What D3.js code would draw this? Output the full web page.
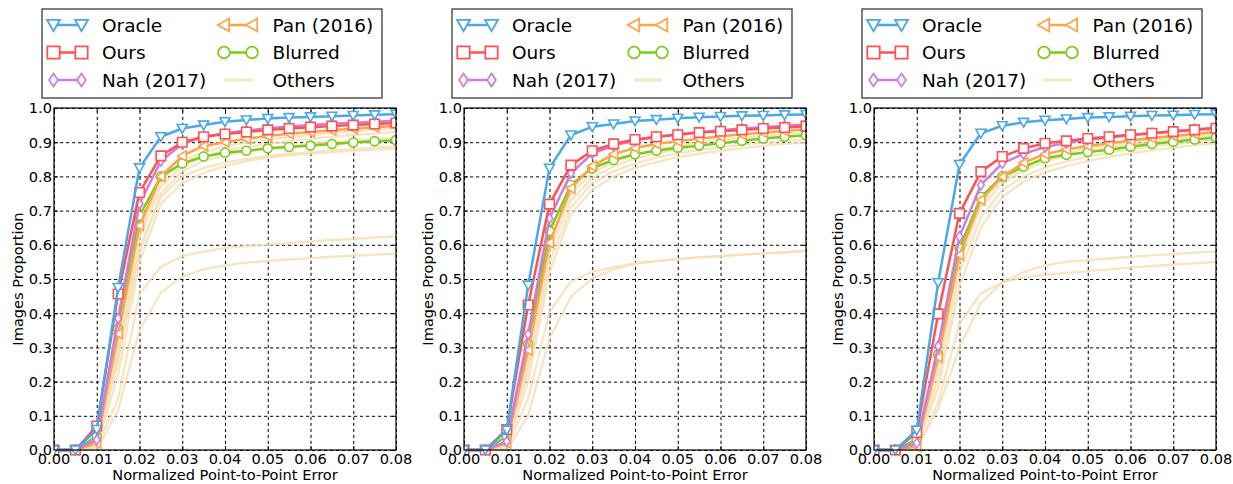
<!DOCTYPE html>
<html>
<head>
<meta charset="utf-8">
<script src="https://cdn.jsdelivr.net/npm/d3@7"></script>
<style>
  html, body { margin: 0; padding: 0; background: #fff; }
  svg { display: block; font-family: "DejaVu Sans", sans-serif; }
</style>
</head>
<body>
<svg id="chart" width="1233" height="484"></svg>
<script>
// ---------- data ----------
const errors = [0,0.005,0.01,0.015,0.02,0.025,0.03,0.035,0.04,0.045,0.05,0.055,0.06,0.065,0.07,0.075,0.08];
const xTicks = [0,0.01,0.02,0.03,0.04,0.05,0.06,0.07,0.08];
const yTicks = [0,0.1,0.2,0.3,0.4,0.5,0.6,0.7,0.8,0.9,1.0];
const seriesNames = ["Oracle","Ours","Nah (2017)","Pan (2016)","Blurred","Others"];

// panel 1
const oracle1  = [0,0,0.06,0.475,0.825,0.916,0.94,0.95,0.96,0.965,0.969,0.972,0.974,0.976,0.978,0.98,0.982];
const ours1    = [0,0,0.07,0.456,0.753,0.86,0.90,0.916,0.924,0.93,0.936,0.94,0.944,0.947,0.95,0.953,0.956];
const nah1     = [0,0,0.03,0.385,0.72,0.845,0.895,0.915,0.926,0.934,0.941,0.946,0.95,0.954,0.957,0.96,0.963];
const pan1     = [0,0,0.02,0.34,0.656,0.80,0.86,0.889,0.90,0.91,0.918,0.925,0.93,0.935,0.94,0.944,0.948];
const blurred1 = [0,0,0.04,0.355,0.685,0.80,0.838,0.858,0.869,0.875,0.882,0.886,0.89,0.895,0.899,0.903,0.906];
const others1 = [
  [0,0,0.01,0.15,0.456,0.536,0.567,0.58,0.59,0.596,0.60,0.605,0.61,0.614,0.617,0.621,0.625],
  [0,0,0.0,0.117,0.35,0.46,0.507,0.528,0.54,0.548,0.553,0.557,0.561,0.565,0.568,0.571,0.574],
  [0,0,0.01,0.22,0.55,0.72,0.78,0.81,0.83,0.845,0.855,0.862,0.867,0.871,0.875,0.878,0.881],
  [0,0,0.015,0.26,0.59,0.74,0.80,0.825,0.84,0.851,0.86,0.866,0.871,0.876,0.88,0.884,0.888],
  [0,0,0.02,0.29,0.62,0.77,0.83,0.857,0.875,0.886,0.895,0.903,0.91,0.916,0.921,0.925,0.93],
  [0,0,0.02,0.31,0.64,0.785,0.845,0.872,0.888,0.899,0.908,0.915,0.921,0.927,0.932,0.937,0.941],
  [0,0,0.015,0.27,0.58,0.75,0.815,0.845,0.862,0.873,0.882,0.889,0.895,0.9,0.905,0.909,0.913]
];

// panel 2
const oracle2  = [0,0,0.058,0.482,0.824,0.921,0.945,0.953,0.962,0.966,0.97,0.973,0.975,0.977,0.978,0.98,0.981];
const ours2    = [0,0,0.06,0.424,0.719,0.833,0.875,0.895,0.908,0.916,0.922,0.928,0.932,0.936,0.94,0.943,0.947];
const nah2     = [0,0,0.025,0.338,0.677,0.809,0.867,0.89,0.905,0.915,0.923,0.929,0.935,0.94,0.944,0.948,0.952];
const pan2     = [0,0,0.02,0.292,0.606,0.765,0.83,0.865,0.883,0.895,0.903,0.91,0.917,0.923,0.928,0.933,0.938];
const blurred2 = [0,0,0.04,0.31,0.64,0.775,0.824,0.848,0.865,0.875,0.884,0.89,0.897,0.904,0.911,0.916,0.92];
const others2 = [
  [0,0,0.005,0.15,0.404,0.492,0.521,0.535,0.546,0.552,0.558,0.563,0.567,0.571,0.575,0.578,0.582],
  [0,0,0.0,0.10,0.327,0.448,0.502,0.528,0.545,0.552,0.558,0.563,0.567,0.571,0.575,0.578,0.582],
  [0,0,0.01,0.2,0.52,0.69,0.76,0.80,0.825,0.842,0.856,0.866,0.875,0.882,0.889,0.895,0.9],
  [0,0,0.015,0.23,0.55,0.71,0.78,0.815,0.838,0.855,0.867,0.877,0.885,0.892,0.898,0.904,0.909],
  [0,0,0.015,0.25,0.58,0.73,0.795,0.83,0.852,0.867,0.879,0.889,0.897,0.904,0.91,0.915,0.92],
  [0,0,0.02,0.27,0.6,0.75,0.81,0.843,0.864,0.879,0.89,0.899,0.907,0.913,0.919,0.924,0.929]
];

// panel 3
const oracle3  = [0,0,0.058,0.489,0.835,0.926,0.948,0.958,0.964,0.968,0.972,0.974,0.976,0.978,0.979,0.981,0.982];
const ours3    = [0,0,0.051,0.398,0.692,0.814,0.858,0.882,0.897,0.904,0.911,0.916,0.922,0.926,0.931,0.936,0.941];
const nah3     = [0,0,0.02,0.304,0.624,0.775,0.838,0.866,0.886,0.898,0.907,0.914,0.92,0.926,0.932,0.937,0.943];
const pan3     = [0,0,0.01,0.271,0.57,0.731,0.799,0.84,0.865,0.879,0.889,0.897,0.905,0.912,0.918,0.924,0.93];
const blurred3 = [0,0,0.03,0.28,0.59,0.74,0.80,0.828,0.853,0.863,0.871,0.878,0.887,0.895,0.901,0.908,0.914];
const others3 = [
  [0,0,0.005,0.12,0.30,0.43,0.49,0.52,0.54,0.55,0.555,0.56,0.565,0.569,0.573,0.577,0.58],
  [0,0,0.0,0.14,0.37,0.458,0.49,0.505,0.512,0.518,0.523,0.528,0.533,0.538,0.542,0.546,0.55],
  [0,0,0.01,0.18,0.48,0.65,0.74,0.785,0.812,0.83,0.845,0.857,0.867,0.876,0.884,0.891,0.897],
  [0,0,0.01,0.21,0.52,0.68,0.76,0.8,0.826,0.844,0.858,0.87,0.879,0.887,0.894,0.9,0.906],
  [0,0,0.015,0.24,0.55,0.71,0.78,0.818,0.843,0.86,0.873,0.884,0.893,0.9,0.906,0.912,0.917],
  [0,0,0.015,0.26,0.57,0.725,0.79,0.828,0.853,0.869,0.882,0.892,0.9,0.907,0.913,0.918,0.923]
];

const panels = [
  {oracle: oracle1, ours: ours1, nah: nah1, pan: pan1, blurred: blurred1, others: others1},
  {oracle: oracle2, ours: ours2, nah: nah2, pan: pan2, blurred: blurred2, others: others2},
  {oracle: oracle3, ours: ours3, nah: nah3, pan: pan3, blurred: blurred3, others: others3}
];

// ---------- styles ----------
const COL = {
  oracle: "#4aa8e8", ours: "#ff5252", nah: "#cf7be6", pan: "#ffa24a",
  blurred: "#7acc1a", others: "#f5deb3"
};

function markerPath(type, s) {
  const r = s / 2;
  switch (type) {
    case "tri_down": return `M${-r},${-r*0.8}L${r},${-r*0.8}L0,${r*0.95}Z`;
    case "tri_left": return `M${-r*0.95},0L${r*0.8},${-r}L${r*0.8},${r}Z`;
    case "square": { const h = r * 0.95; return `M${-h},${-h}L${h},${-h}L${h},${h}L${-h},${h}Z`; }
    case "thin_diamond": return `M0,${-r}L${r*0.68},0L0,${r}L${-r*0.68},0Z`;
    case "circle": { const c = r * 0.9; return `M${c},0A${c},${c} 0 1,1 ${-c},0A${c},${c} 0 1,1 ${c},0Z`; }
  }
}

const svg = d3.select("#chart");
const PW = 342, PH = 342, TOP = 108;
const FONT = 14.6;

const drawOrder = [
  {key: "blurred", marker: "circle"},
  {key: "pan", marker: "tri_left"},
  {key: "nah", marker: "thin_diamond"},
  {key: "ours", marker: "square"},
  {key: "oracle", marker: "tri_down"}
];

panels.forEach((p, i) => {
  const left = 54 + 410 * i;
  const x = d3.scaleLinear().domain([0, 0.08]).range([left, left + PW]);
  const y = d3.scaleLinear().domain([0, 1]).range([TOP + PH, TOP]);
  const g = svg.append("g");

  // grid
  const gx = g.append("g").attr("transform", `translate(0,${TOP + PH})`)
    .call(d3.axisBottom(x).tickValues(xTicks).tickSize(-PH).tickFormat(""));
  gx.select(".domain").remove();
  gx.selectAll("line").attr("stroke", "#000").attr("stroke-width", 1).attr("stroke-dasharray", "3.2,2.8");
  const gy = g.append("g").attr("transform", `translate(${left},0)`)
    .call(d3.axisLeft(y).tickValues(yTicks).tickSize(-PW).tickFormat(""));
  gy.select(".domain").remove();
  gy.selectAll("line").attr("stroke", "#000").attr("stroke-width", 1).attr("stroke-dasharray", "3.2,2.8");

  // inward ticks on all sides
  const tk = [
    [d3.axisBottom(x).tickValues(xTicks).tickSize(-4).tickFormat(""), `translate(0,${TOP + PH})`],
    [d3.axisTop(x).tickValues(xTicks).tickSize(-4).tickFormat(""), `translate(0,${TOP})`],
    [d3.axisLeft(y).tickValues(yTicks).tickSize(-4).tickFormat(""), `translate(${left},0)`],
    [d3.axisRight(y).tickValues(yTicks).tickSize(-4).tickFormat(""), `translate(${left + PW},0)`]
  ];
  tk.forEach(([ax, tr]) => {
    const a = g.append("g").attr("transform", tr).call(ax);
    a.select(".domain").remove();
    a.selectAll("line").attr("stroke", "#000").attr("stroke-width", 1);
  });

  // clip
  const clipId = "clip" + i;
  svg.append("clipPath").attr("id", clipId)
    .append("rect").attr("x", left).attr("y", TOP - 8).attr("width", PW).attr("height", PH + 16);

  const line = d3.line().x((d, j) => x(errors[j])).y(d => y(d));
  const plot = g.append("g").attr("clip-path", `url(#${clipId})`);

  // others
  p.others.forEach(arr => {
    plot.append("path").attr("d", line(arr)).attr("fill", "none")
      .attr("stroke", COL.others).attr("stroke-opacity", 0.8).attr("stroke-width", 2.3)
      .attr("stroke-linejoin", "round");
  });

  // main series
  drawOrder.forEach(s => {
    const arr = p[s.key];
    plot.append("path").attr("d", line(arr)).attr("fill", "none")
      .attr("stroke", COL[s.key]).attr("stroke-width", 2.5).attr("stroke-linejoin", "round");
    plot.selectAll(null).data(arr).enter().append("path")
      .attr("transform", (d, j) => `translate(${x(errors[j])},${y(d)})`)
      .attr("d", markerPath(s.marker, 10))
      .attr("fill", "#fff").attr("stroke", COL[s.key]).attr("stroke-width", 1.6);
  });

  // frame
  g.append("rect").attr("x", left).attr("y", TOP).attr("width", PW).attr("height", PH)
    .attr("fill", "none").attr("stroke", "#000").attr("stroke-width", 1.2);

  // tick labels
  g.selectAll(null).data(xTicks).enter().append("text")
    .attr("x", d => x(d)).attr("y", TOP + PH + 14)
    .attr("text-anchor", "middle").attr("font-size", FONT).attr("fill", "#000")
    .text(d => d3.format(".2f")(d));
  g.selectAll(null).data(yTicks).enter().append("text")
    .attr("x", left - 2).attr("y", d => y(d) + 5.3)
    .attr("text-anchor", "end").attr("font-size", FONT).attr("fill", "#000")
    .text(d => d3.format(".1f")(d));

  // axis titles
  g.append("text").attr("x", left + PW / 2).attr("y", 480)
    .attr("text-anchor", "middle").attr("font-size", FONT).attr("fill", "#000")
    .text("Normalized Point-to-Point Error");
  g.append("text").attr("transform", `translate(${left - 31},${TOP + PH / 2}) rotate(-90)`)
    .attr("text-anchor", "middle").attr("font-size", FONT).attr("fill", "#000")
    .text("Images Proportion");

  // legend
  const lg = g.append("g");
  lg.append("rect").attr("x", left - 12).attr("y", 9).attr("width", 340).attr("height", 89)
    .attr("fill", "#fff").attr("stroke", "#3a3a3a").attr("stroke-width", 1.3);
  const items = [
    {name: seriesNames[0], key: "oracle", marker: "tri_down", col: 0, row: 0},
    {name: seriesNames[1], key: "ours", marker: "square", col: 0, row: 1},
    {name: seriesNames[2], key: "nah", marker: "thin_diamond", col: 0, row: 2},
    {name: seriesNames[3], key: "pan", marker: "tri_left", col: 1, row: 0},
    {name: seriesNames[4], key: "blurred", marker: "circle", col: 1, row: 1},
    {name: seriesNames[5], key: "others", marker: null, col: 1, row: 2}
  ];
  items.forEach(it => {
    const cx = left - 0.5 + it.col * 170.5;
    const cy = 25 + it.row * 27.5;
    const ls = lg.append("line").attr("x1", cx).attr("x2", cx + 28).attr("y1", cy).attr("y2", cy)
      .attr("stroke", COL[it.key]).attr("stroke-width", it.marker ? 2.5 : 3);
    if (!it.marker) ls.attr("stroke-opacity", 0.8);
    if (it.marker) {
      [cx, cx + 28].forEach(mx => {
        lg.append("path").attr("transform", `translate(${mx},${cy})`)
          .attr("d", markerPath(it.marker, 13))
          .attr("fill", "#fff").attr("stroke", COL[it.key]).attr("stroke-width", 1.8);
      });
    }
    lg.append("text").attr("x", cx + 48.5).attr("y", cy + 6.6)
      .attr("font-size", 18.5).attr("fill", "#000").text(it.name);
  });
});
</script>
</body>
</html>
